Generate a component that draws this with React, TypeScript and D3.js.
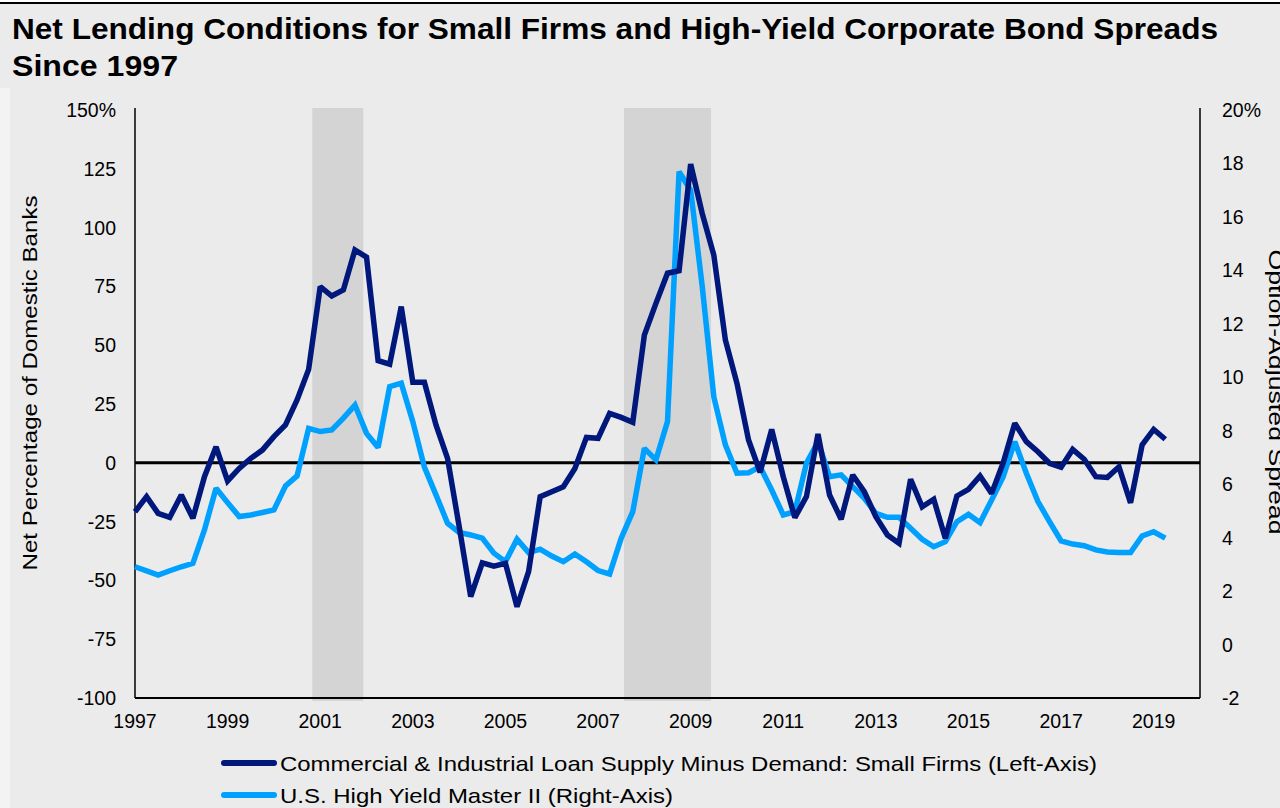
import * as d3 from 'd3';

// quarterly observations, 1997Q1 .. 2019Q2
const START_YEAR = 1997;

// C&I loan supply minus demand, small firms (left axis, %)
const smallFirms = [
  -20.8, -14.4, -21.5, -23.2, -13.7, -23.6, -5.9, 6.8, -7.7, -2.4,
  1.9, 5.4, 11.1, 16.1, 26.7, 39.7, 74.9, 70.9, 73.5, 90.5,
  87.4, 43.4, 41.9, 66.4, 34.2, 34.2, 16.1, 1.9, -27, -56.9,
  -42.5, -43.9, -42.7, -61.2, -46.3, -14.4, -12.3, -10.2, -2.4, 10.8,
  10.4, 21, 19.3, 17.2, 54.3, 67.8, 80.6, 81.7, 127, 106,
  88.3, 52.2, 33.8, 9.7, -4, 14.2, -5.9, -23.3, -14.4, 12.2,
  -13.7, -24, -5.2, -12.3, -22.9, -30.7, -34.2, -7, -18.7, -15.5,
  -32.1, -14.1, -11.3, -5.6, -13, 0, 16.8, 9, 4.7, -0.2,
  -1.9, 5.7, 1.5, -5.9, -6.2, -1.7, -17, 7.6, 14.2, 10,
];

// US high yield master II option-adjusted spread (right axis, %)
const highYield = [
  2.91, 2.76, 2.6, 2.76, 2.91, 3.04, 4.29, 5.85, 5.31, 4.79,
  4.85, 4.94, 5.04, 5.93, 6.31, 8.09, 7.97, 8.03, 8.47, 8.96,
  7.9, 7.37, 9.65, 9.78, 8.34, 6.64, 5.6, 4.54, 4.19, 4.1,
  3.98, 3.42, 3.1, 3.94, 3.44, 3.57, 3.31, 3.1, 3.39, 3.1,
  2.77, 2.64, 3.98, 4.97, 7.34, 6.91, 8.34, 17.69, 17.0, 13.4,
  9.27, 7.47, 6.41, 6.43, 6.65, 5.78, 4.85, 4.97, 6.78, 7.59,
  6.28, 6.35, 5.91, 5.47, 4.91, 4.76, 4.76, 4.35, 3.94, 3.66,
  3.85, 4.6, 4.87, 4.56, 5.41, 6.28, 7.59, 6.41, 5.35, 4.6,
  3.88, 3.76, 3.7, 3.54, 3.46, 3.44, 3.44, 4.06, 4.22, 3.98,
];

const recessions: [number, number][] = [
  [2000.83, 2001.93],
  [2007.56, 2009.44],
];

const xTicks = [1997, 1999, 2001, 2003, 2005, 2007, 2009, 2011, 2013, 2015, 2017, 2019];
const leftTicks = [150, 125, 100, 75, 50, 25, 0, -25, -50, -75, -100];
const rightTicks = [20, 18, 16, 14, 12, 10, 8, 6, 4, 2, 0, -2];

const seriesNames = [
  'Commercial & Industrial Loan Supply Minus Demand: Small Firms (Left-Axis)',
  'U.S. High Yield Master II (Right-Axis)',
];

const DARK = '#00177c';
const LIGHT = '#00a0ff';
const BG = '#ebebeb';
const FONT = 'Arial, "Liberation Sans", sans-serif';

const W = 1280;
const H = 808;
const plot = { left: 135, right: 1200, top: 110, bottom: 698 };

function Label({ x, y, anchor = 'start', children }: any) {
  return (
    <text
      x={x}
      y={y}
      textAnchor={anchor}
      dominantBaseline="central"
      fontSize={19.5}
      fontFamily={FONT}
      fill="#000"
    >
      {children}
    </text>
  );
}

export default function App() {
  const x = d3.scaleLinear().domain([1997, 2020]).range([plot.left, plot.right]);
  const yL = d3.scaleLinear().domain([-100, 150]).range([plot.bottom, plot.top]);
  const yR = d3.scaleLinear().domain([-2, 20]).range([plot.bottom, plot.top]);

  const t = (i: number) => START_YEAR + i / 4;

  const lineL = d3.line<number>()
    .x((_, i) => x(t(i)))
    .y(d => yL(d));
  const lineR = d3.line<number>()
    .x((_, i) => x(t(i)))
    .y(d => yR(d));

  return (
    <div style={{ position: 'absolute', left: 0, top: 0 }}>
      <svg width={W} height={H} style={{ display: 'block' }}>
        <rect x={0} y={0} width={W} height={H} fill="#fff" />
        <rect x={0} y={4} width={W} height={H - 4} fill={BG} />
        <rect x={0} y={88} width={10} height={H - 88} fill="#f3f3f3" />
        <line x1={0} x2={W} y1={3} y2={3} stroke="#000" strokeWidth={2} />

        {/* title */}
        <text x={12} y={39} fontSize={30} fontWeight="bold" fontFamily={FONT}
          textLength={1206} lengthAdjust="spacingAndGlyphs">
          Net Lending Conditions for Small Firms and High-Yield Corporate Bond Spreads
        </text>
        <text x={12} y={76} fontSize={30} fontWeight="bold" fontFamily={FONT}
          textLength={166} lengthAdjust="spacingAndGlyphs">
          Since 1997
        </text>

        {/* recession bands */}
        {recessions.map(([a, b], i) => (
          <rect key={i} x={x(a)} y={plot.top - 2} width={x(b) - x(a)}
            height={plot.bottom - plot.top + 5} fill="#d4d4d4" />
        ))}

        {/* axes frame */}
        <line x1={plot.left} x2={plot.left} y1={plot.top - 2} y2={plot.bottom} stroke="#000" strokeWidth={1.5} />
        <line x1={plot.right} x2={plot.right} y1={plot.top - 2} y2={plot.bottom} stroke="#000" strokeWidth={1.5} />
        <line x1={plot.left} x2={plot.right} y1={plot.bottom} y2={plot.bottom} stroke="#000" strokeWidth={2} />

        {/* zero line */}
        <line x1={plot.left} x2={plot.right} y1={yL(0)} y2={yL(0)} stroke="#000" strokeWidth={3} />

        {/* series */}
        <path d={lineR(highYield) || ''} fill="none" stroke={LIGHT} strokeWidth={5.5}
          strokeLinejoin="miter" strokeMiterlimit={2} />
        <path d={lineL(smallFirms) || ''} fill="none" stroke={DARK} strokeWidth={5.5}
          strokeLinejoin="miter" strokeMiterlimit={2} />

        {/* left ticks */}
        {leftTicks.map((v, i) => (
          <Label key={v} x={116} y={yL(v)} anchor="end">{i === 0 ? `${v}%` : v}</Label>
        ))}
        {/* right ticks */}
        {rightTicks.map((v, i) => (
          <Label key={v} x={1222} y={yR(v)}>{i === 0 ? `${v}%` : v}</Label>
        ))}
        {/* x ticks */}
        {xTicks.map(v => (
          <Label key={v} x={x(v)} y={721} anchor="middle">{v}</Label>
        ))}

        {/* axis titles */}
        <text transform={`translate(30,383) rotate(-90)`} textAnchor="middle" dominantBaseline="central"
          fontSize={20} fontFamily={FONT} textLength={375} lengthAdjust="spacingAndGlyphs">
          Net Percentage of Domestic Banks
        </text>
        <text transform={`translate(1276,392) rotate(90)`} textAnchor="middle" dominantBaseline="central"
          fontSize={20} fontFamily={FONT} textLength={285} lengthAdjust="spacingAndGlyphs">
          Option-Adjusted Spread
        </text>

        {/* legend */}
        {seriesNames.map((name, i) => {
          const ly = 763 + i * 32;
          return (
            <g key={name}>
              <line x1={224} x2={274} y1={ly} y2={ly} stroke={i === 0 ? DARK : LIGHT}
                strokeWidth={6} strokeLinecap="round" />
              <text x={280} y={ly} dominantBaseline="central" fontSize={21} fontFamily={FONT}
                textLength={i === 0 ? 817 : 393} lengthAdjust="spacingAndGlyphs">
                {name}
              </text>
            </g>
          );
        })}
      </svg>
    </div>
  );
}
